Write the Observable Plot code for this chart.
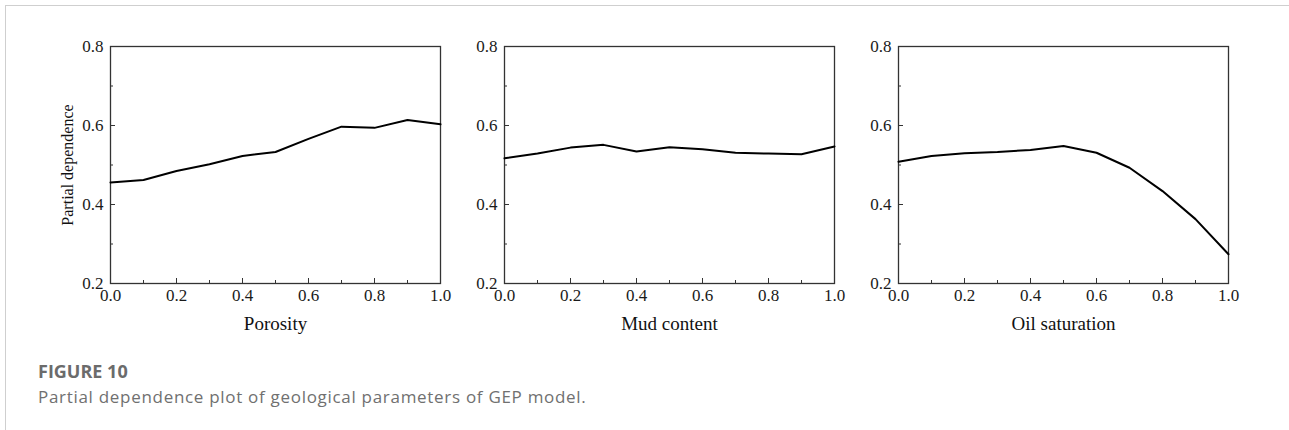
<!DOCTYPE html>
<html>
<head>
<meta charset="utf-8">
<script src="https://cdn.jsdelivr.net/npm/d3@7"></script>
<script src="https://cdn.jsdelivr.net/npm/@observablehq/plot@0.6"></script>
<style>
  html, body { margin: 0; padding: 0; background: #fff; }
  #fig { position: relative; width: 1289px; height: 430px; overflow: hidden; }
  #border { position: absolute; left: 5px; top: 5px; right: 0; bottom: 0;
            border-top: 1.5px solid #cfcfcf; border-left: 1.5px solid #cfcfcf; }
  .panel { position: absolute; top: 0; }
  svg.panel g[aria-label$="tick label"] { font-size: 17px; }
  .cap-title { position: absolute; left: 38px; top: 362px; font-family: "Open Sans", sans-serif;
               font-weight: 700; font-size: 18px; line-height: 18px; color: #6b6b6b; white-space: nowrap; }
  .cap-text { position: absolute; left: 38px; top: 388px; font-family: "Open Sans", sans-serif;
              font-weight: 400; font-size: 17px; line-height: 17px; letter-spacing: 0.7px;
              color: #707070; white-space: nowrap; }
</style>
</head>
<body>
<div id="fig">
  <div id="border"></div>
</div>
<script>
// ---- data ----
const xValues       = [0.0, 0.1, 0.2, 0.3, 0.4, 0.5, 0.6, 0.7, 0.8, 0.9, 1.0];
const porosity      = [0.456, 0.462, 0.485, 0.502, 0.523, 0.533, 0.566, 0.597, 0.594, 0.614, 0.603];
const mudContent    = [0.517, 0.529, 0.544, 0.551, 0.534, 0.545, 0.540, 0.531, 0.529, 0.527, 0.547];
const oilSaturation = [0.508, 0.523, 0.530, 0.533, 0.538, 0.548, 0.531, 0.493, 0.434, 0.363, 0.274];
const panelTitles   = ["Porosity", "Mud content", "Oil saturation"];
const yAxisTitle    = "Partial dependence";
const xMajorTicks   = [0.0, 0.2, 0.4, 0.6, 0.8, 1.0];
const xMinorTicks   = [0.1, 0.3, 0.5, 0.7, 0.9];
const yMajorTicks   = [0.2, 0.4, 0.6, 0.8];
const yMinorTicks   = [0.3, 0.5, 0.7];
const figureLabel   = "FIGURE 10";
const figureCaption = "Partial dependence plot of geological parameters of GEP model.";

const series = [porosity, mudContent, oilSaturation];
const panelLeft = [110, 504, 898]; // left edge of each plot frame

const fig = document.getElementById("fig");
const fmt = d3.format(".1f");

series.forEach((values, i) => {
  const rows = xValues.map((x, k) => ({x, y: values[k]}));
  const marks = [
    Plot.axisX({ticks: xMinorTicks, tickSize: -3, tickFormat: () => "", label: null, stroke: "#333"}),
    Plot.axisX({ticks: xMajorTicks, tickSize: -5, tickPadding: 10, tickFormat: fmt, label: null,
                stroke: "#333", fill: "#1a1a1a", fontSize: 17}),
    Plot.axisY({ticks: yMinorTicks, tickSize: -3, tickFormat: () => "", label: null, stroke: "#333"}),
    Plot.axisY({ticks: yMajorTicks, tickSize: -5, tickPadding: 12, tickFormat: fmt, label: null,
                stroke: "#333", fill: "#1a1a1a", fontSize: 17}),
    Plot.frame({stroke: "#333", strokeWidth: 1.3}),
    Plot.line(rows, {x: "x", y: "y", stroke: "#000", strokeWidth: 2}),
    Plot.text([panelTitles[i]], {frameAnchor: "bottom", dy: 46, lineAnchor: "bottom",
                                 fontSize: 19, fill: "#111"})
  ];
  if (i === 0) {
    marks.push(Plot.text([yAxisTitle], {frameAnchor: "left", dx: -38, rotate: -90, textAnchor: "middle",
                                        lineAnchor: "bottom", fontSize: 16, fill: "#111"}));
  }
  const svg = Plot.plot({
    width: 460,
    height: 340,
    marginLeft: 110,
    marginRight: 20,
    marginTop: 46,
    marginBottom: 57,
    x: {domain: [0, 1]},
    y: {domain: [0.2, 0.8]},
    style: {background: "none", overflow: "visible", fontFamily: "'Liberation Serif', 'Times New Roman', serif", fontSize: "16px", color: "#222"},
    marks
  });
  svg.classList.add("panel");
  svg.style.left = (panelLeft[i] - 110) + "px";
  svg.style.position = "absolute";
  svg.style.top = "0px";
  fig.appendChild(svg);
});

const t1 = document.createElement("div");
t1.className = "cap-title";
t1.textContent = figureLabel;
fig.appendChild(t1);
const t2 = document.createElement("div");
t2.className = "cap-text";
t2.textContent = figureCaption;
fig.appendChild(t2);
</script>
</body>
</html>
